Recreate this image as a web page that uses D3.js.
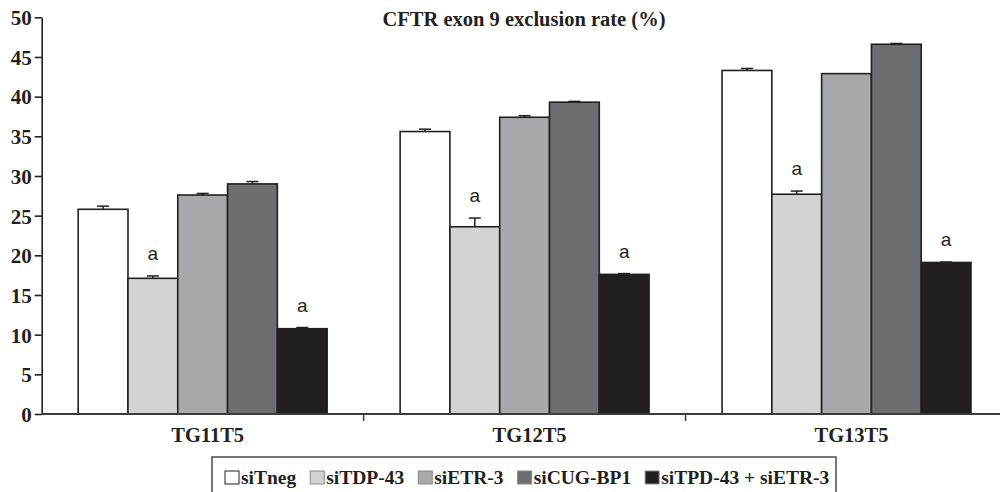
<!DOCTYPE html>
<html><head><meta charset="utf-8">
<script src="https://cdn.jsdelivr.net/npm/d3@7"></script>
<style>body{margin:0;background:#fff}svg{display:block}</style>
</head><body>
<svg id="chart" width="1000" height="492"></svg>
<script>
const groups = ["TG11T5", "TG12T5", "TG13T5"];
const seriesNames = ["siTneg", "siTDP-43", "siETR-3", "siCUG-BP1", "siTPD-43 + siETR-3"];
const seriesColors = ["#ffffff", "#d1d3d4", "#a7a9ac", "#6d6e71", "#231f20"];
const siTneg = [25.8, 35.6, 43.3];
const siTDP43 = [17.1, 23.6, 27.7];
const siETR3 = [27.6, 37.4, 42.9];
const siCUGBP1 = [29.0, 39.3, 46.6];
const siTPD43siETR3 = [10.75, 17.6, 19.1];
const err_siTneg = [0.4, 0.3, 0.25];
const err_siTDP43 = [0.3, 1.1, 0.4];
const err_siETR3 = [0.2, 0.2, 0.0];
const err_siCUGBP1 = [0.3, 0.1, 0.1];
const err_siTPD43siETR3 = [0.15, 0.1, 0.05];
const sigMarks = ["", "a", "", "", "a"];
const yTicks = [0, 5, 10, 15, 20, 25, 30, 35, 40, 45, 50];
const title = "CFTR exon 9 exclusion rate (%)";

const values = [siTneg, siTDP43, siETR3, siCUGBP1, siTPD43siETR3];
const errors = [err_siTneg, err_siTDP43, err_siETR3, err_siCUGBP1, err_siTPD43siETR3];

const svg = d3.select("#chart");
const serif = "'Liberation Serif','Times New Roman',serif";
const sans = "'Liberation Sans',Arial,sans-serif";
const dark = "#231f20";

const x0 = d3.scaleBand().domain(groups).range([41.7, 1007.5]).padding(0);
const x1 = d3.scaleBand().domain(seriesNames).range([0, x0.bandwidth()]).paddingInner(0).paddingOuter(0.733);
const y = d3.scaleLinear().domain([0, 50]).range([414, 17.3]);

// title
svg.append("text").attr("x", 524).attr("y", 26).attr("text-anchor", "middle")
  .attr("font-family", serif).attr("font-weight", "bold").attr("font-size", 20.5)
  .attr("fill", dark).text(title);

// bars
const data = [];
groups.forEach((g, gi) => seriesNames.forEach((s, si) => {
  data.push({g, s, si, v: values[si][gi], e: errors[si][gi], mark: sigMarks[si]});
}));

const gBars = svg.append("g");
gBars.selectAll("rect").data(data).join("rect")
  .attr("x", d => x0(d.g) + x1(d.s))
  .attr("y", d => y(d.v))
  .attr("width", x1.bandwidth())
  .attr("height", d => y(0) - y(d.v))
  .attr("fill", d => seriesColors[d.si])
  .attr("stroke", dark).attr("stroke-width", 1.6);

// error bars (upper only)
const gErr = svg.append("g").attr("stroke", dark).attr("stroke-width", 1.5);
data.filter(d => d.e > 0).forEach(d => {
  const cx = x0(d.g) + x1(d.s) + x1.bandwidth() / 2;
  gErr.append("line").attr("x1", cx).attr("x2", cx).attr("y1", y(d.v)).attr("y2", y(d.v + d.e));
  gErr.append("line").attr("x1", cx - 6).attr("x2", cx + 6).attr("y1", y(d.v + d.e)).attr("y2", y(d.v + d.e));
});

// significance marks
svg.append("g").selectAll("text").data(data.filter(d => d.mark)).join("text")
  .attr("x", d => x0(d.g) + x1(d.s) + x1.bandwidth() / 2)
  .attr("y", d => y(d.v + d.e) - 16)
  .attr("text-anchor", "middle").attr("font-family", sans).attr("font-size", 19)
  .attr("fill", dark).text(d => d.mark);

// y axis
const yAxis = svg.append("g").attr("transform", "translate(41.7,0)")
  .call(d3.axisLeft(y).tickValues(yTicks).tickSize(7).tickPadding(3).tickSizeOuter(0));
yAxis.select(".domain").attr("stroke", dark).attr("stroke-width", 1.6);
yAxis.selectAll(".tick line").attr("stroke", dark).attr("stroke-width", 1.6);
yAxis.selectAll(".tick text").attr("font-family", serif).attr("font-weight", "bold")
  .attr("font-size", 21).attr("fill", dark).attr("dy", "0.35em");

// x axis
const xAxisG = svg.append("g").attr("transform", `translate(0,${y(0)})`);
xAxisG.append("line").attr("x1", 41.7).attr("x2", 1000).attr("y1", 0).attr("y2", 0)
  .attr("stroke", "#3d3a3b").attr("stroke-width", 2);
const boundaries = groups.map(g => x0(g)).concat([x0.range()[1]]);
xAxisG.selectAll("line.tk").data(boundaries.slice(1)).join("line").attr("class", "tk")
  .attr("x1", d => d).attr("x2", d => d).attr("y1", 0).attr("y2", 7)
  .attr("stroke", "#3d3a3b").attr("stroke-width", 1.5);
xAxisG.selectAll("text").data(groups).join("text")
  .attr("x", d => x0(d) + x0.bandwidth() / 2 + 5)
  .attr("y", 28).attr("text-anchor", "middle")
  .attr("font-family", serif).attr("font-weight", "bold").attr("font-size", 20.5)
  .attr("fill", dark).text(d => d);

// legend
const leg = svg.append("g");
leg.append("rect").attr("x", 212).attr("y", 457).attr("width", 624).attr("height", 60)
  .attr("fill", "#fff").attr("stroke", "#555").attr("stroke-width", 1.6);
let lx = 225;
seriesNames.forEach((s, i) => {
  leg.append("rect").attr("x", lx).attr("y", 471).attr("width", 14).attr("height", 13)
    .attr("fill", seriesColors[i]).attr("stroke", i === 0 ? dark : "#888").attr("stroke-width", 1);
  const t = leg.append("text").attr("x", lx + 16).attr("y", 484)
    .attr("font-family", serif).attr("font-weight", "bold").attr("font-size", 19.5)
    .attr("fill", dark).text(s);
  lx = lx + 16 + t.node().getComputedTextLength() + 14;
});
</script>
</body></html>
